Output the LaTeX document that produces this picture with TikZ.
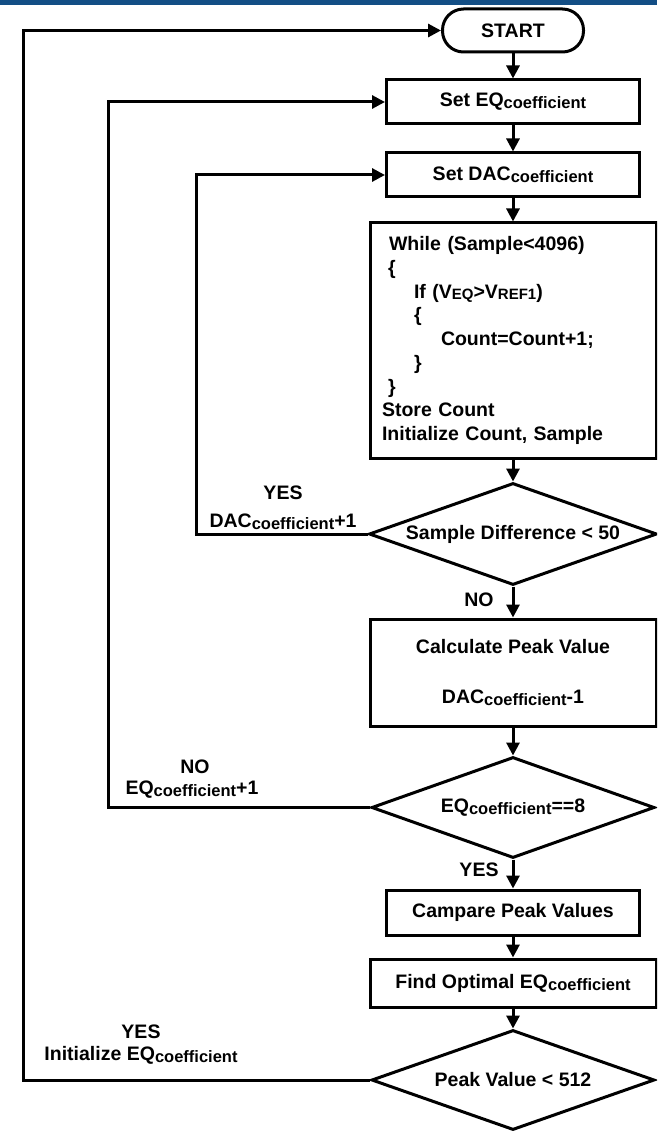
\documentclass[tikz,border=0pt]{standalone}
\usepackage{fontspec}
\setmainfont{Liberation Sans}
\usetikzlibrary{shapes.geometric,arrows.meta}
\definecolor{barblue}{HTML}{134E85}
\newcommand\mysub[1]{\raisebox{-2pt}{\fontsize{16.5}{16.5}\selectfont #1}}
\newcommand\mysubs[1]{\raisebox{-1pt}{\fontsize{15}{15}\selectfont #1}}
\begin{document}
\begin{tikzpicture}[x=1pt,y=-1pt,line width=3pt,
  every node/.style={font=\bfseries\fontsize{19.5}{23.75}\selectfont},
  box/.style={draw,rectangle,inner sep=0pt,align=center},
  narrowbox/.style={box,minimum width=253,minimum height=44},
  widebox/.style={box,minimum width=286},
  dia/.style={draw,diamond,inner sep=0pt,aspect=2.8},
  arr/.style={-{Triangle[length=13pt,width=13pt]}},
  lbl/.style={inner sep=0pt,align=center}]
\useasboundingbox (0,0) rectangle (657,1131);
\clip (0,0) rectangle (657,1131);
\fill[barblue] (0,0) rectangle (657,5);

\coordinate (lane1) at (23,0);
\coordinate (lane2) at (108,0);
\coordinate (lane3) at (196,0);

\node[draw,rounded corners=21,inner sep=0pt,minimum width=141,minimum height=43] (start) at (513,30.5) {START};
\node[narrowbox] (seteq) at (513,102) {Set EQ\mysub{coefficient}};
\node[narrowbox] (setdac) at (513,175) {Set DAC\mysub{coefficient}};
\node[widebox,minimum height=235,text width=286,align=left] (while) at (513,340.5)
  {\hspace*{19pt}While (Sample<4096)\\
   \hspace*{18pt}\{\\
   \hspace*{44pt}If (V\mysubs{EQ}>V\mysubs{REF1})\\
   \hspace*{44pt}\{\\
   \hspace*{71pt}Count=Count+1;\\
   \hspace*{44pt}\}\\
   \hspace*{18pt}\}\\
   \hspace*{12pt}Store Count\\
   \hspace*{12pt}Initialize Count, Sample};
\node[dia,minimum width=288,minimum height=102] (d1) at (513,534) {Sample Difference < 50};
\node[widebox,minimum height=107] (calc) at (513,672.5) {Calculate Peak Value\\[27pt]DAC\mysub{coefficient}-1};
\node[dia,minimum width=283,minimum height=101] (d2) at (513,807.5) {EQ\mysub{coefficient}==8};
\node[narrowbox,minimum height=45] (cmp) at (513,912.5) {Campare Peak Values};
\node[widebox,minimum height=48] (find) at (513,983) {Find Optimal EQ\mysub{coefficient}};
\node[dia,minimum width=283,minimum height=100] (d3) at (513,1080) {Peak Value < 512};

\draw[arr] (start) -- (seteq);
\draw[arr] (seteq) -- (setdac);
\draw[arr] (setdac) -- (while);
\draw[arr] (while) -- (d1);
\draw[arr] (d1) -- (calc);
\draw[arr] (calc) -- (d2);
\draw[arr] (d2) -- (cmp);
\draw[arr] (cmp) -- (find);
\draw[arr] (find) -- (d3);

\draw[arr] (d1.west) -- (d1.west -| lane3) |- (setdac.west);
\draw[arr] (d2.west) -- (d2.west -| lane2) |- (seteq.west);
\draw[arr] (d3.west) -- (d3.west -| lane1) |- (start.west);

\node[lbl] (l1a) at (283,493) {YES};
\node[lbl] (l1b) at (283,522) {DAC\mysub{coefficient}+1};
\node[lbl] (l2) at (479,600) {NO};
\node[lbl] (l3a) at (195,767) {NO};
\node[lbl] (l3b) at (192,790) {EQ\mysub{coefficient}+1};
\node[lbl] (l4) at (479,870) {YES};
\node[lbl] (l5a) at (141,1032) {YES};
\node[lbl] (l5b) at (141,1055) {Initialize EQ\mysub{coefficient}};
\end{tikzpicture}
\end{document}
